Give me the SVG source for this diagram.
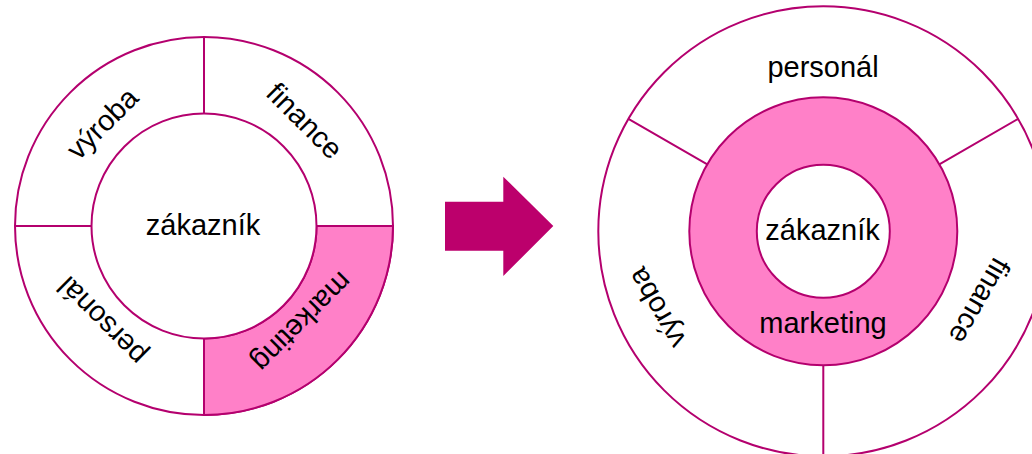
<svg xmlns="http://www.w3.org/2000/svg" width="1032" height="454" viewBox="0 0 1032 454">
<style>
.ln{fill:none;stroke:#B4006E;stroke-width:2}
.wf{fill:#FFFFFF;stroke:#B4006E;stroke-width:2}
.pf{fill:#FF80C8;stroke:#B4006E;stroke-width:2}
.t{font-family:"Liberation Sans",Arial,sans-serif;font-size:29px;fill:#000;text-anchor:middle}
</style>
<rect width="1032" height="454" fill="#FFFFFF"/>
<g id="left-diagram">
  <g id="left-ring">
    <circle class="wf" cx="204" cy="226" r="189"/>
    <path class="pf" d="M393,226 A189,189 0 0 1 204,415 L204,338.5 A112.5,112.5 0 0 0 316.5,226 Z"/>
    <path class="ln" d="M204,37 V113.5 M15,226 H91.5 M316.5,226 H393 M204,338.5 V415"/>
  </g>
  <g id="left-zakaznik">
    <circle class="wf" cx="204" cy="226" r="112.5"/>
    <text class="t" x="203" y="235">zákazník</text>
  </g>
  <g id="left-vyroba"><text class="t" transform="translate(103,124) rotate(-45)" x="0" y="9">výroba</text></g>
  <g id="left-finance"><text class="t" transform="translate(304,121.5) rotate(45)" x="0" y="9">finance</text></g>
  <g id="left-marketing"><text class="t" transform="translate(301.5,321.5) rotate(135)" x="0" y="9">marketing</text></g>
  <g id="left-personal"><text class="t" transform="translate(102.5,320.5) rotate(-135)" x="0" y="9">personál</text></g>
</g>
<g id="connectors">
  <polygon fill="#BC006C" points="445,201.7 503.3,201.7 503.3,176.7 553.3,226 503.3,276 503.3,250.7 445,250.7"/>
</g>
<g id="right-diagram">
  <g id="right-ring">
    <circle class="wf" cx="823.3" cy="231.3" r="225"/>
    <path class="ln" d="M707.3,164.3 L628.4,118.8 M939.3,164.3 L1018.2,118.8 M823.3,365.3 V456.3"/>
  </g>
  <g id="right-personal"><text class="t" x="823" y="77">personál</text></g>
  <g id="right-vyroba"><text class="t" transform="translate(657.5,307.5) rotate(-120)" x="0" y="9">výroba</text></g>
  <g id="right-finance"><text class="t" transform="translate(979,300.5) rotate(120)" x="0" y="9">finance</text></g>
  <g id="right-marketing">
    <circle class="pf" cx="823.3" cy="231.3" r="134"/>
    <text class="t" x="823" y="333">marketing</text>
  </g>
  <g id="right-zakaznik">
    <circle class="wf" cx="823.3" cy="231.3" r="66.5"/>
    <text class="t" x="822.5" y="240">zákazník</text>
  </g>
</g>
</svg>
